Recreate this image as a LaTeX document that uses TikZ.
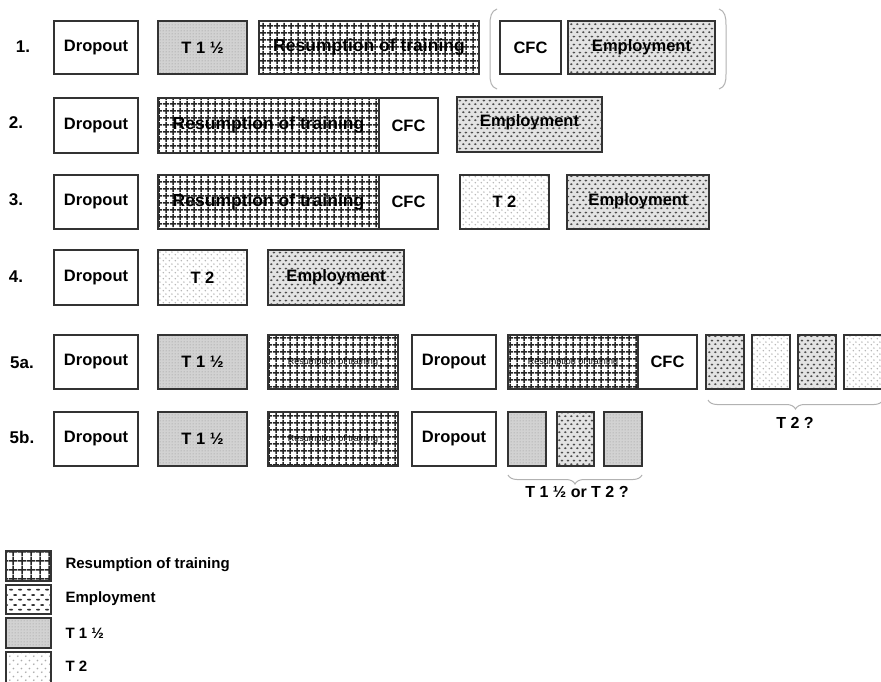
\documentclass[tikz,border=0pt]{standalone}
\usepackage{fontspec}
\setmainfont{Liberation Sans}
\usetikzlibrary{patterns.meta,decorations.pathreplacing}

% fill patterns for the four kinds of period
\tikzdeclarepattern{name=rtgrid, type=uncolored,
  bounding box={(0pt,0pt) and (6.5pt,6.5pt)}, tile size={(6.5pt,6.5pt)},
  code={\draw[line width=1.6pt] (0pt,3.25pt) -- (6.5pt,3.25pt) (3.25pt,0pt) -- (3.25pt,6.5pt);}}
\tikzdeclarepattern{name=rtgridbig, type=uncolored,
  bounding box={(0pt,0pt) and (9pt,9pt)}, tile size={(9pt,9pt)},
  code={\draw[line width=1.6pt] (0pt,4.5pt) -- (9pt,4.5pt) (4.5pt,0pt) -- (4.5pt,9pt);}}
\tikzdeclarepattern{name=empdots, type=uncolored,
  bounding box={(0pt,0pt) and (6pt,8pt)}, tile size={(6pt,8pt)},
  code={\fill (1.5pt,2pt) ellipse [x radius=1.6pt, y radius=1.1pt];
        \fill (4.5pt,6pt) ellipse [x radius=1.6pt, y radius=1.1pt];}}
\tikzdeclarepattern{name=empdash, type=uncolored,
  bounding box={(0pt,0pt) and (9pt,10pt)}, tile size={(9pt,10pt)},
  code={\fill (2.25pt,2.5pt) ellipse [x radius=2.2pt, y radius=1pt];
        \fill (6.75pt,7.5pt) ellipse [x radius=2.2pt, y radius=1pt];}}
\tikzdeclarepattern{name=finedots, type=uncolored,
  bounding box={(0pt,0pt) and (2.6pt,2.6pt)}, tile size={(2.6pt,2.6pt)},
  code={\fill (1.3pt,1.3pt) circle [radius=0.7pt];}}
\tikzdeclarepattern{name=sparsedots, type=uncolored,
  bounding box={(0pt,0pt) and (6pt,6pt)}, tile size={(6pt,6pt)},
  code={\fill (1.5pt,1.5pt) circle [radius=0.9pt];
        \fill (4.5pt,4.5pt) circle [radius=0.9pt];}}
\tikzdeclarepattern{name=sparsedotsbig, type=uncolored,
  bounding box={(0pt,0pt) and (8pt,8pt)}, tile size={(8pt,8pt)},
  code={\fill (2pt,2pt) circle [radius=1pt];
        \fill (6pt,6pt) circle [radius=1pt];}}

\tikzset{
  box/.style={draw=black!80, line width=1.6pt, inner sep=0pt, outer sep=0pt,
    anchor=north west, font=\bfseries\fontsize{16.5}{18}\selectfont},
  plain/.style={box, fill=white},
  rt/.style={box, preaction={fill=white}, pattern=rtgrid, pattern color=black!85},
  emp/.style={box, preaction={fill=gray!22}, pattern=empdots, pattern color=black!70},
  tone/.style={box, preaction={fill=gray!35}, pattern=finedots, pattern color=gray!65},
  ttwo/.style={box, preaction={fill=white}, pattern=sparsedots, pattern color=gray!60},
  rtbig/.style={font=\bfseries\fontsize{17.5}{19}\selectfont},
  small/.style={font=\fontsize{9.5}{10}\selectfont},
  rowlabel/.style={font=\bfseries\fontsize{17}{19}\selectfont},
  paren/.style={draw=gray!60, line width=1pt},
  brace/.style={draw=gray!60, line width=1pt, decorate,
    decoration={brace, mirror, amplitude=9pt}},
  bracelabel/.style={font=\bfseries\fontsize{16}{18}\selectfont},
  legtext/.style={anchor=west, font=\bfseries\fontsize{15}{17}\selectfont},
}

% #1 name, #2 style, #3 left, #4 top, #5 right, #6 bottom, #7 text
\newcommand\segbox[7]{%
  \node[#2, minimum width={(#5-#3)*1pt}, minimum height={(#6-#4)*1pt}] (#1) at (#3,#4) {#7};}
\newcommand\emptext[2][4pt]{\raisebox{#1}{#2}}

\begin{document}
\begin{tikzpicture}[x=1pt, y=-1pt]
\clip (0,0) rectangle (881,682);
\fill[white] (0,0) rectangle (881,682);

% row 1
\node[rowlabel] (l1) at (23,47) {1.};
\segbox{a1}{plain}{54}{21}{138}{74}{Dropout}
\segbox{b1}{tone}{158}{21}{247}{74}{T 1 ½}
\segbox{c1}{rt, rtbig}{259}{21}{479}{74}{Resumption of training}
\segbox{d1}{plain}{500}{21}{561}{74}{CFC}
\segbox{e1}{emp}{568}{21}{715}{74}{\emptext{Employment}}
\draw[paren] (497,9) .. controls (491,11) and (490,17) .. (490,25) -- (490,74)
  .. controls (490,82) and (491,87) .. (497,89);
\draw[paren] (719,9) .. controls (725,11) and (726,17) .. (726,25) -- (726,74)
  .. controls (726,82) and (725,87) .. (719,89);

% row 2
\node[rowlabel] (l2) at (16,123) {2.};
\segbox{a2}{plain}{54}{98}{138}{153}{Dropout}
\segbox{b2}{rt, rtbig}{158}{98}{379}{153}{Resumption of training}
\segbox{c2}{plain}{379}{98}{438}{153}{CFC}
\segbox{d2}{emp}{457}{97}{602}{152}{\emptext[7pt]{Employment}}

% row 3
\node[rowlabel] (l3) at (16,200) {3.};
\segbox{a3}{plain}{54}{175}{138}{229}{Dropout}
\segbox{b3}{rt, rtbig}{158}{175}{379}{229}{Resumption of training}
\segbox{c3}{plain}{379}{175}{438}{229}{CFC}
\segbox{d3}{ttwo}{460}{175}{549}{229}{T 2}
\segbox{e3}{emp}{567}{175}{709}{229}{\emptext{Employment}}

% row 4
\node[rowlabel] (l4) at (16,277) {4.};
\segbox{a4}{plain}{54}{250}{138}{305}{Dropout}
\segbox{b4}{ttwo}{158}{250}{247}{305}{T 2}
\segbox{c4}{emp}{268}{250}{404}{305}{\emptext{Employment}}

% row 5a
\node[rowlabel] (l5) at (22,363) {5a.};
\segbox{a5}{plain}{54}{335}{138}{389}{Dropout}
\segbox{b5}{tone}{158}{335}{247}{389}{T 1 ½}
\segbox{c5}{rt}{268}{335}{398}{389}{\small\mdseries Resumption of training}
\segbox{d5}{plain}{412}{335}{496}{389}{Dropout}
\segbox{e5}{rt}{508}{335}{638}{389}{\small\mdseries Resumption of training}
\segbox{f5}{plain}{638}{335}{697}{389}{CFC}
\segbox{g5}{emp}{706}{335}{744}{389}{}
\segbox{h5}{ttwo}{752}{335}{790}{389}{}
\segbox{i5}{emp}{798}{335}{836}{389}{}
\segbox{j5}{ttwo}{844}{335}{882}{389}{}
\draw[brace] ([xshift=2pt,yshift=-11pt]g5.south west) -- ([xshift=1pt,yshift=-11pt]j5.south east);
\node[bracelabel] (t5) at (795,423) {T 2 ?};

% row 5b
\node[rowlabel] (l6) at (22,437) {5b.};
\segbox{a6}{plain}{54}{412}{138}{466}{Dropout}
\segbox{b6}{tone}{158}{412}{247}{466}{T 1 ½}
\segbox{c6}{rt}{268}{412}{398}{466}{\small\mdseries Resumption of training}
\segbox{d6}{plain}{412}{412}{496}{466}{Dropout}
\segbox{e6}{tone}{508}{412}{546}{466}{}
\segbox{f6}{emp}{557}{412}{594}{466}{}
\segbox{g6}{tone}{604}{412}{642}{466}{}
\draw[brace] ([yshift=-9pt]e6.south west) -- ([yshift=-9pt]g6.south east);
\node[bracelabel] (t6) at (577,492) {T 1 ½ or T 2 ?};

% legend
\segbox{k1}{box, preaction={fill=white}, pattern=rtgridbig, pattern color=black!85}{6}{551}{51}{581}{}
\segbox{k2}{box, preaction={fill=white}, pattern=empdash, pattern color=black!80}{6}{585}{51}{614}{}
\segbox{k3}{tone}{6}{618}{51}{648}{}
\segbox{k4}{box, preaction={fill=white}, pattern=sparsedotsbig, pattern color=gray!65}{6}{652}{51}{684}{}
\node[legtext] (m1) at (62,565) {Resumption of training};
\node[legtext] (m2) at (62,599) {Employment};
\node[legtext] (m3) at (62,633) {T 1 ½};
\node[legtext] (m4) at (62,666) {T 2};
\end{tikzpicture}
\end{document}
